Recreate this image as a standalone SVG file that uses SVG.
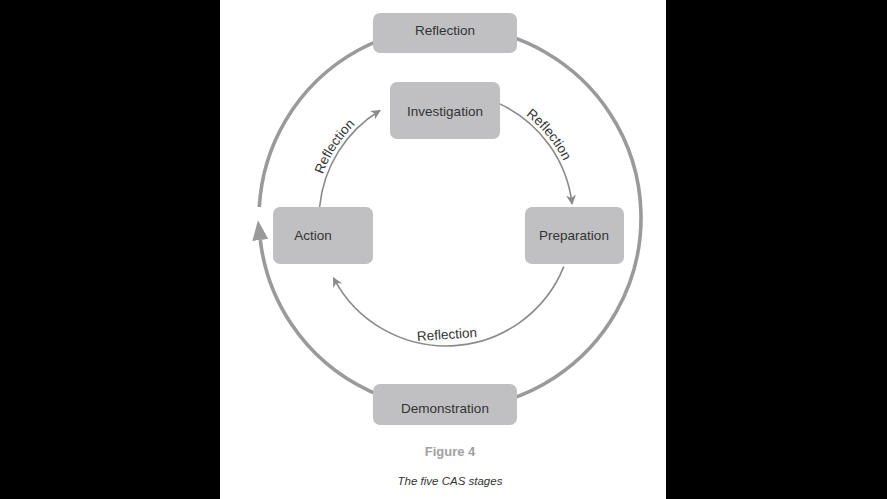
<svg xmlns="http://www.w3.org/2000/svg" width="887" height="499" viewBox="0 0 887 499">
  <style>
    .box { fill: #c0c0c2; }
    .lbl { font-family: "Liberation Sans", Arial, sans-serif; font-size: 13.5px; fill: #333333; text-anchor: middle; }
    .inner { fill: none; stroke: #8a8a8a; stroke-width: 1.6; }
    .outer { fill: none; stroke: #9a9a9a; stroke-width: 3.6; }
  </style>
  <defs>
    <marker id="arrS" markerUnits="userSpaceOnUse" markerWidth="12" markerHeight="12" refX="9" refY="5" orient="auto">
      <path d="M0,0 L10,5 L0,10 L3,5 Z" fill="#8a8a8a"/>
    </marker>
    <marker id="arrL" markerUnits="userSpaceOnUse" markerWidth="22" markerHeight="18" refX="0" refY="8" orient="auto">
      <path d="M0,0 L20,8 L0,16 Z" fill="#9a9a9a"/>
    </marker>
    <path id="tpLeft" d="M 315.7 205.3 A 131 131 0 0 1 380.5 105.6"/>
    <path id="tpRight" d="M 492.3 96.5 A 131 131 0 0 1 575.3 197.7"/>
  </defs>
  <rect x="0" y="0" width="887" height="499" fill="#000000"/>
  <rect x="220" y="0" width="446" height="499" fill="#ffffff"/>

  <g id="connectors">
    <path class="outer" d="M 259.3 207 A 191 191 0 1 1 260.3 240" marker-end="url(#arrL)"/>
    <path class="inner" d="M 319.6 207 A 127 127 0 0 1 380 110.5" marker-end="url(#arrS)"/>
    <path class="inner" d="M 499.7 103.9 A 127 127 0 0 1 572.1 204" marker-end="url(#arrS)"/>
    <path class="inner" d="M 563.8 266.6 A 127 127 0 0 1 333.5 277.8" marker-end="url(#arrS)"/>
    <text class="lbl"><textPath href="#tpLeft" startOffset="50%">Reflection</textPath></text>
    <text class="lbl"><textPath href="#tpRight" startOffset="50%">Reflection</textPath></text>
    <text class="lbl" x="447" y="339" transform="rotate(-4 447 335)">Reflection</text>
  </g>

  <g id="reflection">
    <rect class="box" x="373" y="13" width="144" height="40" rx="7"/>
    <text class="lbl" x="445" y="35">Reflection</text>
  </g>
  <g id="investigation">
    <rect class="box" x="390" y="82" width="110" height="57" rx="7"/>
    <text class="lbl" x="445" y="116">Investigation</text>
  </g>
  <g id="action">
    <rect class="box" x="273" y="207" width="100" height="57" rx="7"/>
    <text class="lbl" x="313" y="240">Action</text>
  </g>
  <g id="preparation">
    <rect class="box" x="525" y="207" width="99" height="57" rx="7"/>
    <text class="lbl" x="574" y="240">Preparation</text>
  </g>
  <g id="demonstration">
    <rect class="box" x="373" y="384" width="144" height="41" rx="7"/>
    <text class="lbl" x="445" y="413">Demonstration</text>
  </g>

  <g id="caption">
    <text x="450" y="456" font-family="Liberation Sans, Arial, sans-serif" font-size="13" font-weight="bold" fill="#a0a0a0" text-anchor="middle">Figure 4</text>
    <text x="450" y="485" font-family="Liberation Sans, Arial, sans-serif" font-size="11.5" font-style="italic" fill="#333333" text-anchor="middle">The five CAS stages</text>
  </g>
</svg>
